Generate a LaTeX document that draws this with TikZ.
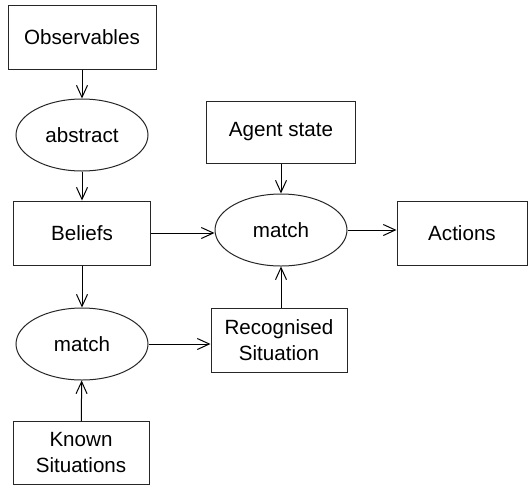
\documentclass[tikz,border=0pt]{standalone}
\usepackage{fontspec}
\setmainfont{Liberation Sans}
\usepackage{tikz}
\usetikzlibrary{shapes.geometric,arrows.meta}
\tikzstyle{box}=[rectangle,draw=black!85,line width=0.5pt,align=center,inner sep=0pt]
\tikzstyle{oval}=[ellipse,draw=black!85,line width=0.5pt,inner sep=0pt]
\tikzstyle{edge} = [draw,line width=0.5pt,-{Straight Barb[length=6pt,width=5.5pt]}]

\begin{document}
\begin{tikzpicture}[x=0.5pt,y=-0.5pt,font=\fontsize{10.3}{13}\selectfont]
  \useasboundingbox (0,0) rectangle (530,488);

  % the boxes
  \foreach \pos/\w/\h/\name/\text in {
    {(82,37)/74/32/obs/Observables},
    {(82,233)/68.5/32/beliefs/Beliefs},
    {(281,132)/74.5/31/agent/Agent state},
    {(462,233)/65/32/actions/Actions},
    {(279,340)/68/32/recog/Recognised\\Situation},
    {(81,453)/68/31.5/known/Known\\Situations}}
    \node[box, minimum width=\w pt, minimum height=\h pt] (\name) at \pos {\text};

  % the ovals
  \foreach \pos/\name/\text in {
    {(82,135)/abstract/abstract},
    {(281,230)/matchA/match},
    {(82,344)/matchB/match}}
    \node[oval, minimum width=66pt, minimum height=36pt] (\name) at \pos {\text};

  % arrows
  \path[edge] (obs) -- (abstract);
  \path[edge] (abstract) -- (beliefs);
  \path[edge] (beliefs) -- (matchB);
  \path[edge] (known) -- (matchB);
  \path[edge] (matchB.east) -- (matchB.east -| recog.west);
  \path[edge] (matchA |- recog.north) -- (matchA.south);
  \path[edge] (agent) -- (matchA);
  \path[edge] (beliefs.east) -- (beliefs.east -| matchA.west);
  \path[edge] (matchA.east) -- (matchA.east -| actions.west);
\end{tikzpicture}
\end{document}
